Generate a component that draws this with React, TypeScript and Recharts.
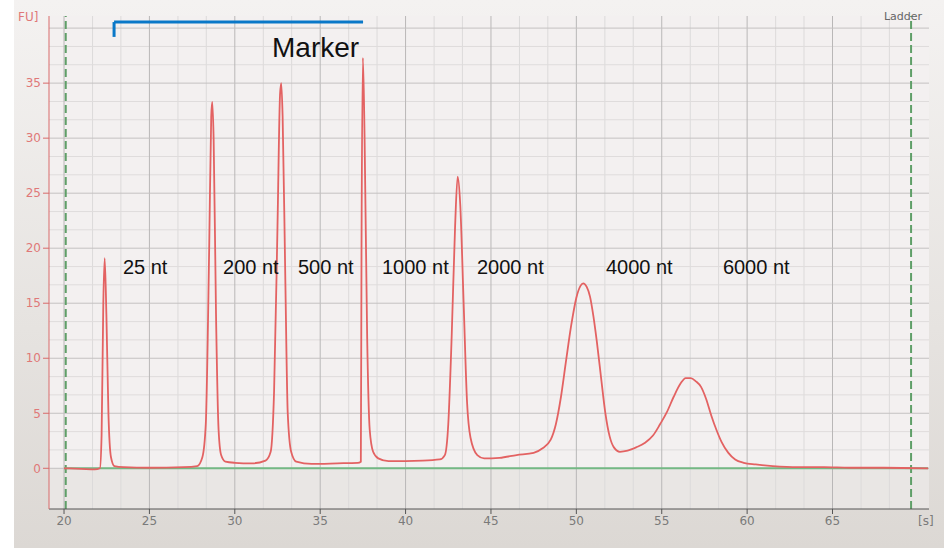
import React from "react";
import {
  CartesianGrid,
  ComposedChart,
  Line,
  ReferenceArea,
  ReferenceDot,
  ReferenceLine,
  XAxis,
  YAxis,
} from "recharts";

// electropherogram trace: [time in s, fluorescence in FU]
const traceTime = [
  20.0, 21.0, 21.8, 22.1, 22.2, 22.3, 22.38, 22.48, 22.6, 22.75, 22.95, 23.5, 25, 27, 27.8,
  28.1, 28.3, 28.5, 28.62, 28.68, 28.76, 28.9, 29.05, 29.2, 29.45, 30, 31, 31.8, 32.1, 32.3,
  32.5, 32.65, 32.72, 32.8, 32.95, 33.1, 33.3, 33.6, 34.5, 36, 37.2, 37.38, 37.42, 37.5, 37.6,
  37.75, 37.9, 38.1, 38.4, 39, 41, 42.0, 42.3, 42.5, 42.7, 42.9, 43.05, 43.2, 43.4, 43.6, 43.8,
  44.2, 44.6, 45.5, 46.5, 47.5, 48.0, 48.5, 48.8, 49.1, 49.4, 49.7, 50.0, 50.25, 50.4, 50.6,
  50.8, 51.0, 51.2, 51.45, 51.7, 51.95, 52.2, 52.55, 53.0, 53.5, 54.0, 54.5, 54.9, 55.3, 55.7,
  56.1, 56.4, 56.7, 57.0, 57.3, 57.6, 57.9, 58.2, 58.5, 58.9, 59.3, 59.8, 60.5, 61.5, 63, 64.5,
  66, 68, 70.6,
];
const traceFU = [
  0.0, -0.05, -0.1, 0.0, 3, 15, 19.1, 14, 5, 1.0, 0.2, 0.1, 0.05, 0.1, 0.2,
  1.0, 4, 20, 32, 33.3, 30, 14, 3.5, 1.2, 0.6, 0.5, 0.45, 0.7, 1.5, 7,
  22, 34, 35.0, 32, 18, 5, 1.5, 0.6, 0.4, 0.45, 0.5, 0.6, 20, 37.3, 30,
  12, 3.5, 1.5, 0.9, 0.65, 0.7, 0.8, 1.2, 4, 12, 22, 26.5, 24, 15, 6, 2.8,
  1.2, 0.9, 0.95, 1.2, 1.4, 1.8, 2.6, 4.0, 6.5, 9.8, 13, 15.5, 16.6, 16.8, 16.5,
  15.6, 13.8, 11.5, 8.2, 5, 2.9, 1.9, 1.5, 1.6, 1.9, 2.3, 3.0, 4.0, 5.1, 6.5,
  7.7, 8.2, 8.2, 7.9, 7.4, 6.3, 4.8, 3.5, 2.4, 1.4, 0.8, 0.5, 0.35, 0.2, 0.1, 0.1,
  0.05, 0.05, 0.0,
];

const xTicks = [20, 25, 30, 35, 40, 45, 50, 55, 60, 65];
const yTicks = [0, 5, 10, 15, 20, 25, 30, 35];
const yGridMajor = [0, 5, 10, 15, 20, 25, 30, 35, 40];
const xMinor = [
  21.67, 23.33, 26.67, 28.33, 31.67, 33.33, 36.67, 38.33, 41.67, 43.33, 46.67, 48.33,
  51.67, 53.33, 56.67, 58.33, 61.67, 63.33, 66.67, 68.33,
];
const yMinor = [1.67, 3.33, 6.67, 8.33, 11.67, 13.33, 16.67, 18.33, 21.67, 23.33, 26.67, 28.33, 31.67, 33.33, 36.67, 38.33];

// ladder window limits (green dashed) and peak labels
const ladderStart = 20.1;
const ladderEnd = 69.6;
const peakLabels = [
  { text: "25 nt", x: 23.45 },
  { text: "200 nt", x: 29.31 },
  { text: "500 nt", x: 33.7 },
  { text: "1000 nt", x: 38.62 },
  { text: "2000 nt", x: 44.18 },
  { text: "4000 nt", x: 51.73 },
  { text: "6000 nt", x: 58.58 },
];
const labelFU = 17.64;
const markerRange = [22.93, 37.51];

const data = traceTime.map((t, i) => ({ t, fu: traceFU[i] }));

const textFont = "'Liberation Sans', Arial, sans-serif";

export default function App() {
  return (
    <div style={{ position: "relative", width: 944, height: 548, background: "#ffffff", fontFamily: "'DejaVu Sans', sans-serif" }}>
      <style>{`body{margin:0}`}</style>
      <div
        style={{
          position: "absolute",
          left: 14,
          top: 0,
          width: 930,
          height: 548,
          background: "linear-gradient(#f4f2f1, #e6e3e0 60%, #dcd8d4)",
        }}
      />
      <div style={{ position: "absolute", left: 0, top: 0 }}>
        <ComposedChart width={944} height={548} data={data} margin={{ top: 16, right: 15, bottom: 9, left: 14 }}>
          <CartesianGrid fill="#f3f0f0" stroke="none" />
          <ReferenceArea x1={19.12} x2={70.65} y1={-3.7} y2={0} fill="#e9e6e4" fillOpacity={1} stroke="none" />
          {xMinor.map((v) => (
            <ReferenceLine key={"xm" + v} x={v} stroke="#dcdada" strokeWidth={1} />
          ))}
          {yMinor.map((v) => (
            <ReferenceLine key={"ym" + v} y={v} stroke="#dfdcdc" strokeWidth={1} />
          ))}
          {xTicks.map((v) => (
            <ReferenceLine key={"xM" + v} x={v} stroke="#b9b7b7" strokeWidth={1} />
          ))}
          {yGridMajor.map((v) => (
            <ReferenceLine key={"yM" + v} y={v} stroke="#c4c1c1" strokeWidth={1} />
          ))}
          <XAxis
            dataKey="t"
            type="number"
            domain={[19.12, 70.65]}
            allowDataOverflow
            ticks={xTicks}
            height={30}
            stroke="#555555"
            tick={{ fill: "#7a7a7a", fontSize: 12 }}
            tickLine={{ stroke: "#555555" }}
            tickSize={5}
          />
          <YAxis
            type="number"
            domain={[-3.7, 41.1]}
            allowDataOverflow
            ticks={yTicks}
            width={35}
            stroke="#d86a6a"
            tick={{ fill: "#e07878", fontSize: 12 }}
            tickLine={{ stroke: "#d86a6a" }}
            tickSize={6}
          />
          <ReferenceLine x={ladderStart} stroke="#5f9f68" strokeWidth={2} strokeDasharray="8 4" />
          <ReferenceLine x={ladderEnd} stroke="#5f9f68" strokeWidth={2} strokeDasharray="8 4" />
          <ReferenceLine
            segment={[
              { x: 20, y: 0 },
              { x: 70.6, y: 0 },
            ]}
            stroke="#74b884"
            strokeWidth={2}
          />
          <Line
            dataKey="fu"
            type="monotone"
            stroke="#e36262"
            strokeWidth={1.8}
            dot={false}
            isAnimationActive={false}
          />
          <ReferenceLine
            segment={[
              { x: markerRange[0], y: 40.55 },
              { x: markerRange[1], y: 40.55 },
            ]}
            stroke="#0a78c8"
            strokeWidth={3}
          />
          <ReferenceLine
            segment={[
              { x: markerRange[0], y: 40.55 },
              { x: markerRange[0], y: 39.2 },
            ]}
            stroke="#0a78c8"
            strokeWidth={3}
          />
          <ReferenceDot
            x={32.18}
            y={37.36}
            r={0}
            shape={(p: any) => (
              <text x={p.cx} y={p.cy} fontSize={28} fontFamily={textFont} fill="#111">
                Marker
              </text>
            )}
          />
          {peakLabels.map((l) => (
            <ReferenceDot
              key={l.text}
              x={l.x}
              y={labelFU}
              r={0}
              shape={(p: any) => (
                <text x={p.cx} y={p.cy} fontSize={20} fontFamily={textFont} fill="#111">
                  {l.text}
                </text>
              )}
            />
          ))}
        </ComposedChart>
      </div>
      <div style={{ position: "absolute", left: 18, top: 10, fontSize: 12, color: "#e07878" }}>FU]</div>
      <div style={{ position: "absolute", right: 22, top: 10, fontSize: 11, color: "#666" }}>Ladder</div>
      <div style={{ position: "absolute", left: 918, top: 514, fontSize: 12, color: "#7a7a7a" }}>[s]</div>
    </div>
  );
}
